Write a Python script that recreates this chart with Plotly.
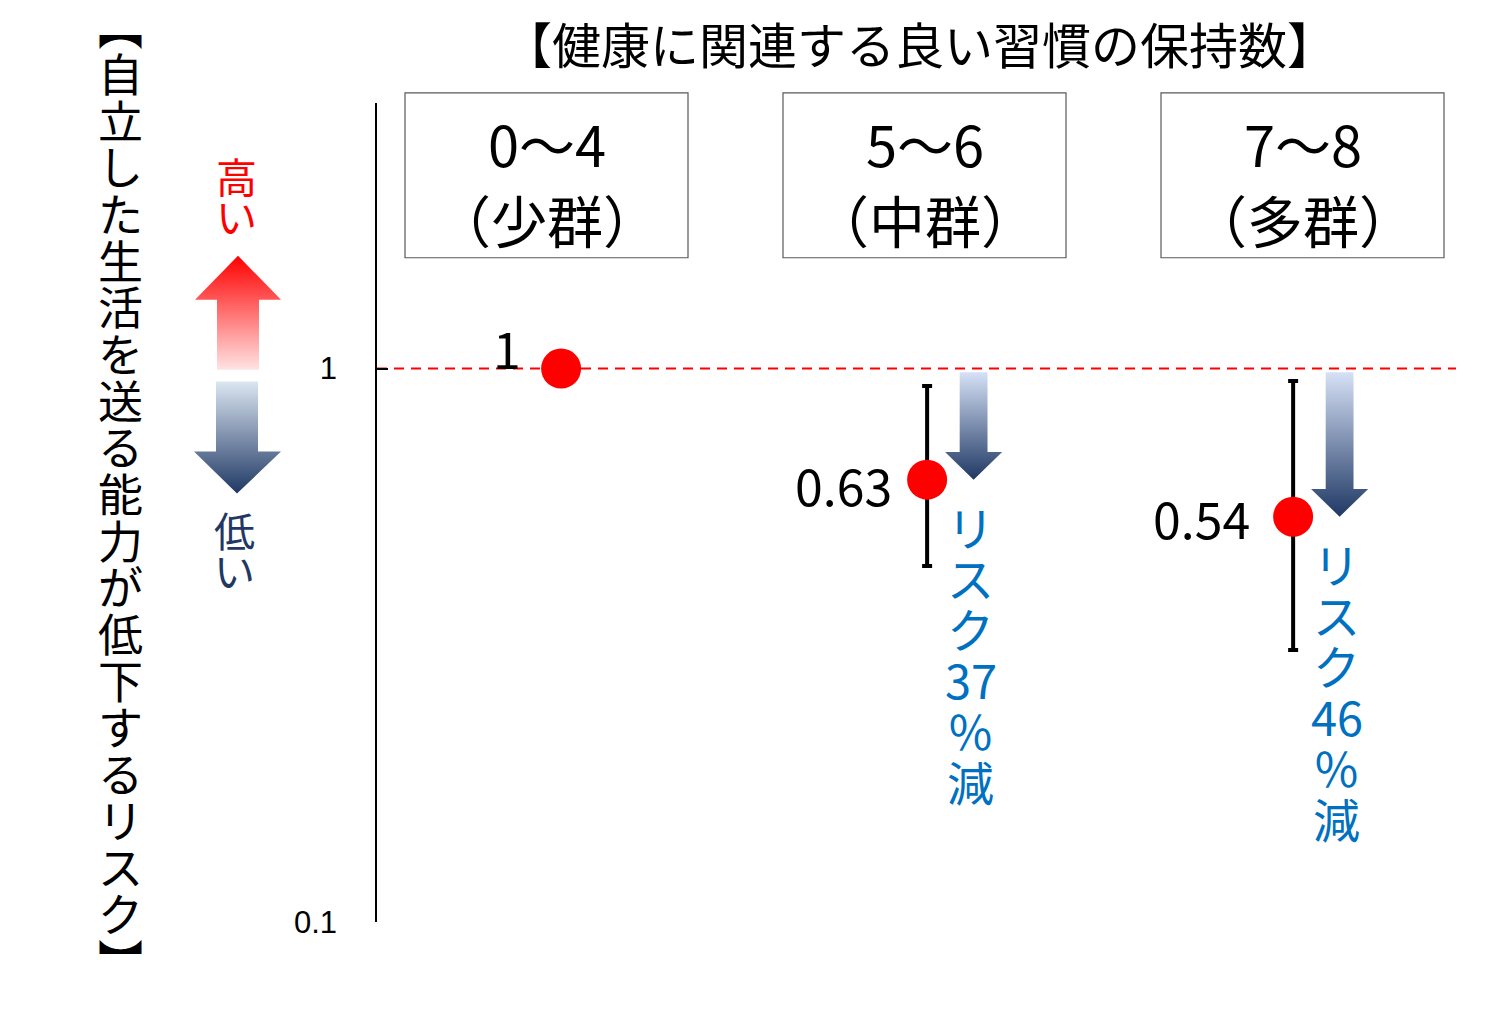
import math
import plotly.graph_objects as go

W, H = 1512, 1021
PX_H = 1004  # vertical pixel scale the page actually renders at
JP = "Noto Sans CJK JP"

# --- data ---
groups = ["0〜4", "5〜6", "7〜8"]
group_names = ["（少群）", "（中群）", "（多群）"]
risk = [1.0, 0.63, 0.54]
ci_low = [None, 0.44, 0.31]
ci_high = [None, 0.93, 0.95]
risk_labels = ["1", "0.63", "0.54"]
reduction = [None, "37", "46"]

title_top = "【健康に関連する良い習慣の保持数】"
y_title = "︻自立した生活を送る能力が低下するリスク︼"

RED = "#FF0000"
NAVY = "#1F3864"
BLUE_TXT = "#0070C0"


def px_x(p):
    return p / W


def px_y(p):
    return 1 - p / PX_H


def label(x, y, text, size, color="black", xref="paper", yref="paper", **kw):
    fig.add_annotation(x=x, y=y, xref=xref, yref=yref, text=text, showarrow=False,
                       xanchor=kw.pop("xanchor", "center"), yanchor=kw.pop("yanchor", "middle"),
                       font=dict(family=JP, size=size, color=color), **kw)


fig = go.Figure()

# error bars + points
err_plus = [0 if h is None else h - v for h, v in zip(ci_high, risk)]
err_minus = [0 if l is None else v - l for l, v in zip(ci_low, risk)]
xs = list(range(len(groups)))
fig.add_trace(go.Scatter(
    x=xs, y=risk, mode="markers",
    marker=dict(size=40, color=RED),
    error_y=dict(type="data", symmetric=False, array=err_plus, arrayminus=err_minus,
                 color="black", thickness=4, width=5),
    cliponaxis=False, showlegend=False, hoverinfo="skip"))

# value labels left of the points
lab_dx = [-38, -33, -41]
lab_dy = [22, -4, 0]
for i, v in enumerate(risk):
    label(i, math.log10(v), risk_labels[i], 50, xref="x", yref="y",
          xanchor="right", xshift=lab_dx[i], yshift=lab_dy[i])

# gradient arrows from 1 down to each reduced value
AX_OFF, SHAFT, HEAD, HEAD_DEC = 0.127, 0.038, 0.078, 0.05
for i, v in enumerate(risk):
    if reduction[i] is None:
        continue
    cx = i + AX_OFF
    base = v * 10 ** HEAD_DEC
    top = 0.985
    fig.add_trace(go.Scatter(
        x=[cx - SHAFT, cx + SHAFT, cx + SHAFT, cx + HEAD, cx, cx - HEAD, cx - SHAFT, cx - SHAFT],
        y=[top, top, base, base, v, base, base, top],
        mode="lines", line=dict(width=0), fill="toself",
        fillgradient=dict(type="vertical", colorscale=[[0, NAVY], [1, "#D6E1F6"]]),
        showlegend=False, hoverinfo="skip"))
    rows = ["リ", "ス", "ク", reduction[i], "％", "減"]
    for k, ch in enumerate(rows):
        label(cx, math.log10(v), ch, 47, BLUE_TXT, xref="x", yref="y",
              yshift=-(46 + 51 * k), xshift=-3)

# legend arrows (high / low) on a pixel overlay axis
fig.add_trace(go.Scatter(
    x=[217, 259, 259, 281, 238, 195, 217, 217],
    y=[370, 370, 300, 300, 256, 300, 300, 370],
    xaxis="x2", yaxis="y2", mode="lines", line=dict(width=0), fill="toself",
    fillgradient=dict(type="vertical", colorscale=[[0, "#FFE3E3"], [1, RED]]),
    showlegend=False, hoverinfo="skip"))
fig.add_trace(go.Scatter(
    x=[216, 258, 258, 281, 237, 194, 216, 216],
    y=[382, 382, 452, 452, 494, 452, 452, 382],
    xaxis="x2", yaxis="y2", mode="lines", line=dict(width=0), fill="toself",
    fillgradient=dict(type="vertical", colorscale=[[0, NAVY], [1, "#DCE6F2"]]),
    showlegend=False, hoverinfo="skip"))

for k, ch in enumerate("高い"):
    label(px_x(236), px_y(175 + 40 * k), ch, 41, RED)
for k, ch in enumerate("低い"):
    label(px_x(234), px_y(530 + 40 * k), ch, 41, NAVY)

# vertical axis title, stacked characters
for k, ch in enumerate(y_title):
    label(px_x(120), px_y(26 + 46.7 * k), ch, 45)

# top title
label(px_x(919), px_y(43), title_top, 49)

# group header boxes (evenly spaced in the header row)
BOX_W, BOX_STEP, BOX_X0 = 283, 378, 405
for i, (g, n) in enumerate(zip(groups, group_names)):
    left = BOX_X0 + BOX_STEP * i
    fig.add_shape(type="rect", xref="paper", yref="paper", x0=px_x(left), x1=px_x(left + BOX_W),
                  y0=px_y(258), y1=px_y(93), line=dict(color="#595959", width=1.2))
    label(px_x(left + BOX_W / 2), px_y(143), g, 56)
    label(px_x(left + BOX_W / 2), px_y(219), n, 56)

# reference line at 1
fig.add_shape(type="line", xref="paper", yref="y", x0=px_x(377), x1=px_x(1456), y0=1, y1=1,
              line=dict(color=RED, width=2, dash="10px,7px"), layer="below")

fig.update_layout(
    width=W, height=H, margin=dict(l=0, r=0, t=0, b=0),
    paper_bgcolor="white", plot_bgcolor="rgba(0,0,0,0)",
    xaxis=dict(domain=[px_x(377), px_x(1456)], range=[-0.503, 2.445], visible=False),
    yaxis=dict(domain=[px_y(923), px_y(103)], type="log", range=[-1, 0.48],
               tickvals=[0.1, 1], ticktext=["0.1", "1"], showgrid=False, zeroline=False,
               showline=True, linecolor="black", linewidth=1.5,
               ticks="inside", ticklen=11, tickcolor="black", tickwidth=1.5,
               ticklabelstandoff=32,
               tickfont=dict(family="Liberation Sans", size=31, color="black")),
    xaxis2=dict(domain=[0, 0.24], range=[0, 0.24 * W], visible=False),
    yaxis2=dict(domain=[0, 1], range=[PX_H, 0], visible=False),
)

fig.write_html("out.html", config={"displayModeBar": False},
               post_script="document.body.style.margin='0';")
